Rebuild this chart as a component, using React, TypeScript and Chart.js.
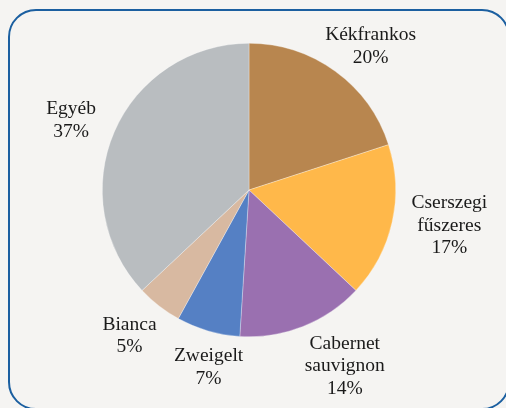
import React, { useEffect, useRef } from "react";
import { Chart, registerables } from "chart.js";

Chart.register(...registerables);

const categories = ["Kékfrankos", "Cserszegi fűszeres", "Cabernet sauvignon", "Zweigelt", "Bianca", "Egyéb"];
const labelLines = [["Kékfrankos"], ["Cserszegi", "fűszeres"], ["Cabernet", "sauvignon"], ["Zweigelt"], ["Bianca"], ["Egyéb"]];
const values = [20, 17, 14, 7, 5, 37];
const colors = ["#b8864f", "#ffb84a", "#9a70b0", "#5580c4", "#d8b9a1", "#b9bdc0"];
// label placement tweaks (px) relative to a fixed distance along the slice mid-angle
const labelNudge = [[7, 14], [10, -7], [24, -5], [14, -10], [0, -8], [1, 8]];
const LABEL_DIST = 195;
const BG = "#f5f4f2";

const labelPlugin = {
  id: "outsideLabels",
  afterDatasetsDraw(chart: any) {
    const ctx = chart.ctx;
    const meta = chart.getDatasetMeta(0);
    const total = values.reduce((a, b) => a + b, 0);
    ctx.save();
    ctx.font = "19.5px 'Liberation Serif', serif";
    ctx.fillStyle = "#1a1a1a";
    ctx.textAlign = "center";
    ctx.textBaseline = "middle";
    const lh = 22.5;
    meta.data.forEach((arc: any, i: number) => {
      const p = arc.getProps(["x", "y", "startAngle", "endAngle"], true);
      const mid = (p.startAngle + p.endAngle) / 2;
      const cx = p.x + Math.cos(mid) * LABEL_DIST + labelNudge[i][0];
      const cy = p.y + Math.sin(mid) * LABEL_DIST + labelNudge[i][1];
      const pct = Math.round((values[i] / total) * 100) + "%";
      const lines = [...labelLines[i], pct];
      const y0 = cy - ((lines.length - 1) * lh) / 2;
      lines.forEach((t, k) => ctx.fillText(t, cx, y0 + k * lh));
    });
    ctx.restore();
  },
};

export default function App() {
  const ref = useRef<HTMLCanvasElement | null>(null);
  useEffect(() => {
    document.body.style.margin = "0";
    document.body.style.background = BG;
    const chart = new Chart(ref.current as HTMLCanvasElement, {
      type: "pie",
      data: {
        labels: categories,
        datasets: [
          {
            data: values,
            backgroundColor: colors,
            borderColor: "rgba(255,255,255,0.5)",
            borderWidth: 0.6,
          },
        ],
      },
      options: {
        animation: false,
        responsive: false,
        layout: { padding: { left: 102, right: 110, top: 43, bottom: 71 } },
        plugins: { legend: { display: false }, tooltip: { enabled: false } },
      },
      plugins: [labelPlugin],
    });
    return () => chart.destroy();
  }, []);
  return (
    <div style={{ position: "relative", width: 506, height: 408, overflow: "hidden", background: BG }}>
      <div
        style={{
          position: "absolute",
          left: 8,
          top: 9,
          width: 502,
          height: 401,
          border: "2px solid #1b5fa0",
          borderRadius: 28,
          boxSizing: "border-box",
        }}
      />
      <canvas ref={ref} width={506} height={408} style={{ position: "absolute", left: 0, top: 0 }} />
    </div>
  );
}
